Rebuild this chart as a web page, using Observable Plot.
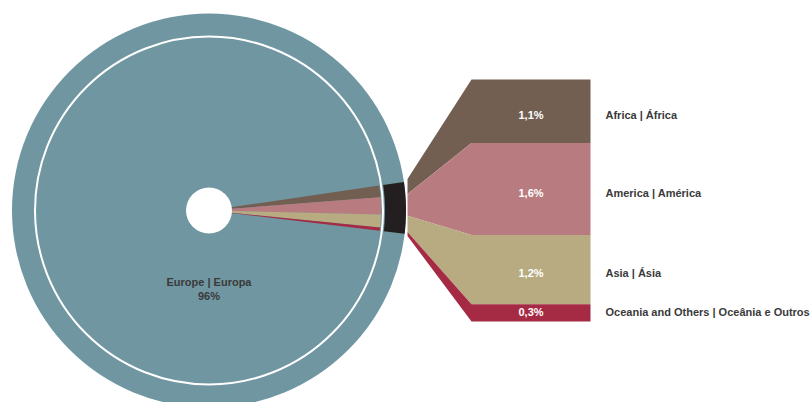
<!DOCTYPE html>
<html>
<head>
<meta charset="utf-8">
<script src="https://cdn.jsdelivr.net/npm/d3@7"></script>
<script src="https://cdn.jsdelivr.net/npm/@observablehq/plot@0.6"></script>
<style>
  html, body { margin: 0; padding: 0; background: #ffffff; }
  #chart svg { display: block; }
</style>
</head>
<body>
<div id="chart"></div>
<script>
// ---- data ----
const mainCategory = "Europe | Europa";
const mainShare = 96;
const mainLabel = "96%";
const categories = ["Africa | África", "America | América", "Asia | Ásia", "Oceania and Others | Oceânia e Outros"];
const shares = [1.1, 1.6, 1.2, 0.3];
const shareLabels = ["1,1%", "1,6%", "1,2%", "0,3%"];

// ---- styles ----
const mainColor = "#6f96a1";
const colors = ["#735f52", "#b87b80", "#b8ab82", "#a52b44"];
const blackColor = "#231f20";
const textColor = "#3a3a3a";

// ---- layout (pixel space) ----
const W = 812, H = 402;
const cx = 208.5, cy = 210, R = 197, rRing = 174, rWedge = 172, rBlackIn = 176, rHole = 23;
const xL = 407, xM = 471, xR = 590, yTop = 79, barHeight = 242;
const centerAngleDeg = 0.8;

const total = mainShare + d3.sum(shares);
const othersTotal = d3.sum(shares);
const toRad = Math.PI / 180;
const span = othersTotal / total * 360;
const a0 = centerAngleDeg + span / 2;
// angle boundaries (degrees, counterclockwise from east), decreasing
const bounds = [a0];
shares.forEach((s, i) => bounds.push(bounds[i] - s / total * 360));

const pt = (r, deg) => ({x: cx + r * Math.cos(deg * toRad), y: cy - r * Math.sin(deg * toRad)});
function arcPts(r, d1, d2, n = 30) {
  return d3.range(n + 1).map(k => pt(r, d1 + (d2 - d1) * k / n));
}

// wedges
const wedges = shares.map((s, i) => [{x: cx, y: cy}, ...arcPts(rWedge, bounds[i], bounds[i + 1])]);
// black annular segment
const blackSeg = [...arcPts(R, bounds[0], bounds[shares.length]), ...arcPts(rBlackIn, bounds[shares.length], bounds[0])];

// funnel + bars
const pxPerPct = barHeight / othersTotal;
const cum = [0]; shares.forEach((s, i) => cum.push(cum[i] + s));
const leftTop = cy - R * 1.1 * Math.sin(bounds[0] * toRad);
const leftBot = cy - R * 1.1 * Math.sin(bounds[shares.length] * toRad);
const leftY = c => leftTop + (leftBot - leftTop) * c / othersTotal;
const barY = c => yTop + c * pxPerPct;
const shapes = shares.map((s, i) => [
  {x: xL, y: leftY(cum[i])},
  {x: xM, y: barY(cum[i])},
  {x: xR, y: barY(cum[i])},
  {x: xR, y: barY(cum[i + 1])},
  {x: xM, y: barY(cum[i + 1])},
  {x: xL, y: leftY(cum[i + 1])}
]);
const labelRows = shares.map((s, i) => ({
  share: shareLabels[i],
  cat: categories[i],
  y: barY((cum[i] + cum[i + 1]) / 2) + (s > 0.5 ? 4 : 0)
}));

const marks = [
  Plot.dot([{x: cx, y: cy}], {x: "x", y: "y", r: R, fill: mainColor, stroke: "none"}),
  ...wedges.map((w, i) => Plot.line(w, {x: "x", y: "y", fill: colors[i], stroke: "none"})),
  Plot.dot([{x: cx, y: cy}], {x: "x", y: "y", r: rRing, fill: "none", stroke: "white", strokeWidth: 2}),
  Plot.line(blackSeg, {x: "x", y: "y", fill: blackColor, stroke: "none"}),
  Plot.dot([{x: cx, y: cy}], {x: "x", y: "y", r: rHole, fill: "white", stroke: "none"}),
  ...shapes.map((s, i) => Plot.line(s, {x: "x", y: "y", fill: colors[i], stroke: "none"})),
  Plot.text(labelRows, {x: (xM + xR) / 2, y: "y", text: "share", fill: "white", fontWeight: "bold", fontSize: 11}),
  Plot.text(labelRows, {x: 605, y: "y", text: "cat", fill: textColor, fontWeight: "bold", fontSize: 11, textAnchor: "start"}),
  Plot.text([{t: mainCategory + "\n" + mainLabel}], {x: cx, y: cy + 78, text: "t", fill: textColor, fontWeight: "bold", fontSize: 11, lineHeight: 1.25})
];

const chart = Plot.plot({
  width: W,
  height: H,
  margin: 0,
  x: {domain: [0, W], range: [0, W], axis: null},
  y: {domain: [0, H], range: [0, H], axis: null},
  style: {fontFamily: "'Liberation Sans', Arial, sans-serif", background: "white"},
  marks
});
document.getElementById("chart").appendChild(chart);
</script>
</body>
</html>
